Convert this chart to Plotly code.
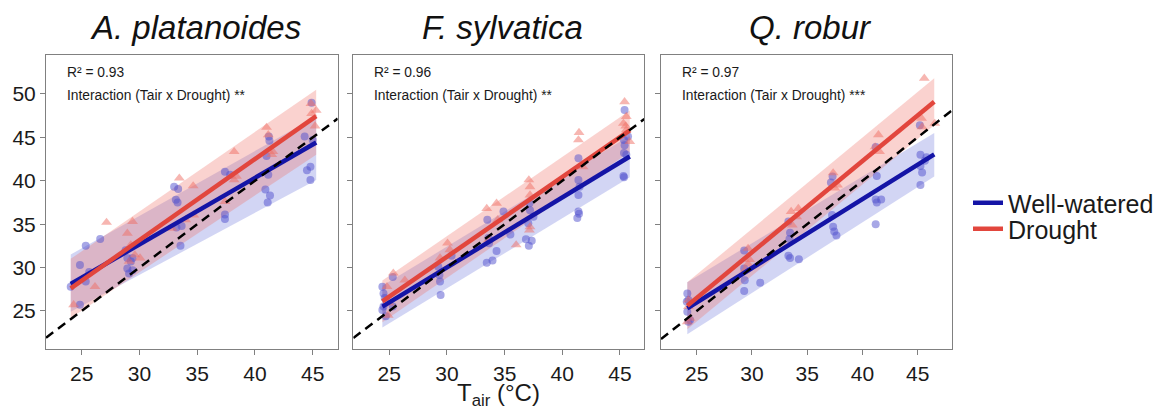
import plotly.graph_objects as go

W, H = 1164, 410

species = ["A. platanoides", "F. sylvatica", "Q. robur"]
r2_labels = ["R\u00b2 = 0.93", "R\u00b2 = 0.96", "R\u00b2 = 0.97"]
sig_labels = ["Interaction (Tair x Drought) **", "Interaction (Tair x Drought) **",
              "Interaction (Tair x Drought) ***"]

# ---------------- A. platanoides ----------------
ap_ww_x = [24.05, 24.85, 24.85, 25.35, 25.65, 25.35, 26.6, 28.8, 28.95, 29.25, 29.4, 28.95, 29.1, 29.4,
           33.0, 33.35, 33.15, 33.3, 33.2, 33.65, 33.55, 37.4, 37.85, 37.4, 37.4,
           41.0, 41.25, 41.2, 41.15, 40.9, 41.3, 41.1, 44.3, 44.9, 45.0, 44.8, 44.5, 44.8]
ap_ww_y = [27.8, 30.3, 25.7, 32.5, 29.5, 28.4, 33.3, 32.0, 31.1, 30.7, 31.1, 29.9, 29.3, 29.7,
           39.3, 39.05, 37.8, 37.5, 34.6, 34.8, 32.5, 41.05, 40.7, 36.1, 35.6,
           42.85, 44.6, 45.1, 40.7, 39.0, 38.3, 37.5, 45.1, 49.0, 44.7, 41.6, 41.2, 40.1]
ap_dr_x = [24.3, 26.15, 27.15, 28.95, 29.4, 29.25, 29.1, 29.6, 30.05, 33.45, 32.8, 34.0, 34.65, 34.7,
           37.4, 38.2, 38.2, 38.4, 41.0, 41.15, 41.45, 41.55, 44.85, 44.9, 45.3, 45.2]
ap_dr_y = [25.7, 27.8, 35.2, 33.95, 35.3, 32.6, 30.7, 31.45, 31.1, 40.3, 34.5, 35.5, 39.4, 36.05,
           37.6, 43.35, 40.1, 40.5, 46.15, 45.3, 43.0, 43.35, 48.9, 47.75, 48.1, 46.3]
ap_fit_x = [24.05, 45.3]
ap_ww_fit = [28.1, 44.4]
ap_ww_lo = [24.9, 40.1]
ap_ww_hi = [31.5, 47.4]
ap_dr_fit = [27.6, 47.45]
ap_dr_lo = [24.2, 43.0]
ap_dr_hi = [31.0, 50.5]

# ---------------- F. sylvatica ----------------
fs_ww_x = [24.4, 24.5, 24.6, 24.5, 24.7, 24.4, 25.3, 25.3, 29.25, 29.35, 29.4, 29.45, 30.4,
           33.45, 33.95, 33.5, 33.6, 33.65, 34.3, 34.9, 35.5, 36.85, 37.1, 37.35, 37.05, 37.2, 37.15, 37.5,
           41.4, 41.4, 41.5, 41.4, 41.4, 41.45, 41.3, 45.4, 45.35, 45.4, 45.35, 45.55, 45.3, 45.35, 45.7]
fs_ww_y = [27.8, 27.0, 26.5, 25.5, 24.4, 25.1, 28.9, 25.5, 30.1, 29.15, 28.4, 26.85, 31.35,
           30.55, 30.8, 35.5, 33.4, 32.8, 31.9, 36.45, 33.8, 33.25, 32.5, 33.1, 35.1, 36.6, 37.4, 35.85,
           42.6, 40.1, 39.3, 38.35, 36.45, 36.2, 35.7, 48.15, 44.7, 44.1, 43.2, 43.0, 40.55, 40.4, 45.1]
fs_dr_x = [24.8, 25.0, 24.9, 25.35, 26.35, 29.4, 30.05, 30.25, 33.45, 34.3, 34.4, 33.6, 36.0,
           37.1, 37.2, 37.2, 37.2, 37.15, 41.45, 41.4, 41.8, 45.4, 45.55, 45.5, 45.85, 45.55, 45.3]
fs_dr_y = [27.8, 25.9, 24.5, 29.35, 28.55, 31.1, 32.8, 32.05, 36.8, 37.4, 35.5, 33.2, 32.6,
           40.1, 39.3, 38.35, 34.7, 34.3, 45.55, 44.7, 41.6, 49.1, 47.4, 46.3, 44.5, 45.85, 46.6]
fs_fit_x = [24.4, 45.85]
fs_ww_fit = [25.5, 42.8]
fs_ww_lo = [23.1, 40.4]
fs_ww_hi = [27.9, 45.2]
fs_dr_fit = [26.1, 45.8]
fs_dr_lo = [23.7, 43.3]
fs_dr_hi = [28.5, 48.1]

# ---------------- Q. robur ----------------
qr_ww_x = [24.15, 24.25, 24.1, 24.15, 24.4, 24.25, 29.3, 29.3, 29.35, 29.3, 30.75,
           33.3, 33.45, 33.4, 33.3, 33.45, 34.25, 37.3, 37.15, 37.25, 37.35, 37.45, 37.65,
           41.2, 41.3, 41.2, 41.3, 41.7, 41.2, 45.2, 45.25, 45.25, 45.4, 45.25, 45.65, 45.8]
qr_ww_y = [27.0, 26.25, 26.05, 24.9, 23.95, 23.75, 31.95, 29.9, 28.55, 27.3, 28.25,
           35.3, 34.0, 33.3, 31.35, 31.1, 30.95, 40.5, 39.8, 36.05, 34.7, 34.15, 33.7,
           43.9, 40.55, 37.85, 37.5, 37.85, 35.0, 46.4, 43.0, 41.7, 40.95, 39.5, 42.3, 42.7]
qr_dr_x = [24.15, 24.4, 24.25, 24.25, 29.65, 29.8, 29.65, 29.35, 33.55, 34.2, 34.05, 33.65,
           37.35, 37.5, 37.75, 41.45, 41.55, 41.15, 45.6, 45.35, 45.4, 46.55]
qr_dr_y = [23.75, 24.15, 26.25, 25.5, 32.2, 30.9, 30.4, 29.7, 36.45, 36.8, 35.85, 34.9,
           40.9, 39.15, 39.5, 45.3, 43.35, 43.9, 51.8, 47.2, 46.2, 46.6]
qr_fit_x = [24.15, 46.5]
qr_ww_fit = [25.3, 43.05]
qr_ww_lo = [22.3, 40.5]
qr_ww_hi = [28.3, 45.5]
qr_dr_fit = [25.6, 49.1]
qr_dr_lo = [22.9, 46.4]
qr_dr_hi = [28.3, 51.8]

x_ranges = [[21.91, 47.16], [21.88, 47.11], [21.77, 48.08]]
y_range = [20.58, 54.49]
x_ticks = [25, 30, 35, 40, 45]
y_ticks = [25, 30, 35, 40, 45, 50]

panels = [
    (ap_ww_x, ap_ww_y, ap_dr_x, ap_dr_y, ap_fit_x, ap_ww_fit, ap_ww_lo, ap_ww_hi, ap_dr_fit, ap_dr_lo, ap_dr_hi),
    (fs_ww_x, fs_ww_y, fs_dr_x, fs_dr_y, fs_fit_x, fs_ww_fit, fs_ww_lo, fs_ww_hi, fs_dr_fit, fs_dr_lo, fs_dr_hi),
    (qr_ww_x, qr_ww_y, qr_dr_x, qr_dr_y, qr_fit_x, qr_ww_fit, qr_ww_lo, qr_ww_hi, qr_dr_fit, qr_dr_lo, qr_dr_hi),
]

# pixel domains of panels
px_dom = [(46, 337.7), (353.3, 644.3), (661, 951.7)]
py_top, py_bot = 55, 349.3

BLUE_LINE = "#1414a6"
RED_LINE = "#e2463d"
BLUE_PT = "rgba(80,80,205,0.5)"
RED_PT = "rgba(240,110,100,0.5)"
BLUE_BAND = "rgba(95,105,215,0.28)"
RED_BAND = "rgba(240,115,105,0.32)"
FONT = "Liberation Sans, Arial, sans-serif"

fig = go.Figure()
for i, (wx, wy, dx, dy, fx, wf, wlo, whi, df, dlo, dhi) in enumerate(panels):
    xa = "x" if i == 0 else f"x{i+1}"
    ya = "y" if i == 0 else f"y{i+1}"
    # bands
    fig.add_trace(go.Scatter(x=fx + fx[::-1], y=wlo + whi[::-1], fill="toself", fillcolor=BLUE_BAND,
                             line=dict(width=0), mode="lines", hoverinfo="skip", showlegend=False,
                             xaxis=xa, yaxis=ya))
    fig.add_trace(go.Scatter(x=fx + fx[::-1], y=dlo + dhi[::-1], fill="toself", fillcolor=RED_BAND,
                             line=dict(width=0), mode="lines", hoverinfo="skip", showlegend=False,
                             xaxis=xa, yaxis=ya))
    # points
    fig.add_trace(go.Scatter(x=wx, y=wy, mode="markers",
                             marker=dict(symbol="circle", size=8, color=BLUE_PT, line=dict(width=0)),
                             showlegend=False, xaxis=xa, yaxis=ya))
    fig.add_trace(go.Scatter(x=dx, y=dy, mode="markers",
                             marker=dict(symbol="triangle-up", size=9.5, color=RED_PT, line=dict(width=0)),
                             showlegend=False, xaxis=xa, yaxis=ya))
    # fits
    fig.add_trace(go.Scatter(x=fx, y=wf, mode="lines", line=dict(color=BLUE_LINE, width=4.5),
                             name="Well-watered", showlegend=(i == 0), legend="legend",
                             xaxis=xa, yaxis=ya))
    fig.add_trace(go.Scatter(x=fx, y=df, mode="lines", line=dict(color=RED_LINE, width=4.5),
                             name="Drought", showlegend=(i == 0), legend="legend2",
                             xaxis=xa, yaxis=ya))
    # 1:1 line
    fig.add_trace(go.Scatter(x=x_ranges[i], y=x_ranges[i], mode="lines",
                             line=dict(color="black", width=2.5, dash="9px,6px"),
                             showlegend=False, hoverinfo="skip", xaxis=xa, yaxis=ya))

leg_common = dict(xanchor="left", yanchor="middle",
                  font=dict(size=25, family=FONT, color="#1a1a1a"),
                  bgcolor="rgba(0,0,0,0)", itemwidth=30)
layout = dict(
    width=W, height=H,
    margin=dict(l=0, r=0, t=0, b=0),
    paper_bgcolor="white", plot_bgcolor="white",
    font=dict(family=FONT, color="#1a1a1a"),
    showlegend=True,
    legend=dict(x=968 / W, y=1 - 203 / H, **leg_common),
    legend2=dict(x=968 / W, y=1 - 229 / H, **leg_common),
)
annotations = []
for i in range(3):
    sfx = "" if i == 0 else str(i + 1)
    x0, x1 = px_dom[i]
    layout["xaxis" + sfx] = dict(
        domain=[x0 / W, x1 / W], range=x_ranges[i], anchor="y" + sfx,
        showgrid=False, zeroline=False, showline=True, mirror=True, linecolor="#808080", linewidth=1,
        ticks="outside", ticklen=5, tickcolor="#808080", tickvals=x_ticks,
        tickfont=dict(size=21, family=FONT, color="#1a1a1a"), automargin=False,
    )
    layout["yaxis" + sfx] = dict(
        domain=[1 - py_bot / H, 1 - py_top / H], range=y_range, anchor="x" + sfx,
        showgrid=False, zeroline=False, showline=True, mirror=True, linecolor="#808080", linewidth=1,
        ticks="outside", ticklen=5, tickcolor="#808080", tickvals=y_ticks,
        showticklabels=(i == 0),
        tickfont=dict(size=21, family=FONT, color="#1a1a1a"), automargin=False,
    )
    annotations.append(dict(text="<i>" + species[i] + "</i>", x=(x0 + x1) / 2 / W + 4 / W, y=1 - 27 / H,
                            xref="paper", yref="paper", xanchor="center", yanchor="middle",
                            showarrow=False, font=dict(size=33, family=FONT, color="#111111")))
    annotations.append(dict(text=r2_labels[i], x=(x0 + 19) / W, y=1 - 73 / H, xref="paper", yref="paper",
                            xanchor="left", yanchor="middle", showarrow=False,
                            font=dict(size=13.8, family=FONT, color="#1a1a1a")))
    annotations.append(dict(text=sig_labels[i], x=(x0 + 19) / W, y=1 - 95 / H, xref="paper", yref="paper",
                            xanchor="left", yanchor="middle", showarrow=False,
                            font=dict(size=13.8, family=FONT, color="#1a1a1a")))

annotations.append(dict(text="T<sub>air</sub> (\u00b0C)", x=(px_dom[1][0] + px_dom[1][1]) / 2 / W,
                        y=1 - 394.5 / H, xref="paper", yref="paper", xanchor="center", yanchor="middle",
                        showarrow=False, font=dict(size=24, family=FONT, color="#1a1a1a")))
layout["annotations"] = annotations
fig.update_layout(**layout)
fig.write_html("out.html", config={"displayModeBar": False},
               post_script="document.body.style.margin='0px';document.body.style.overflow='hidden';")
